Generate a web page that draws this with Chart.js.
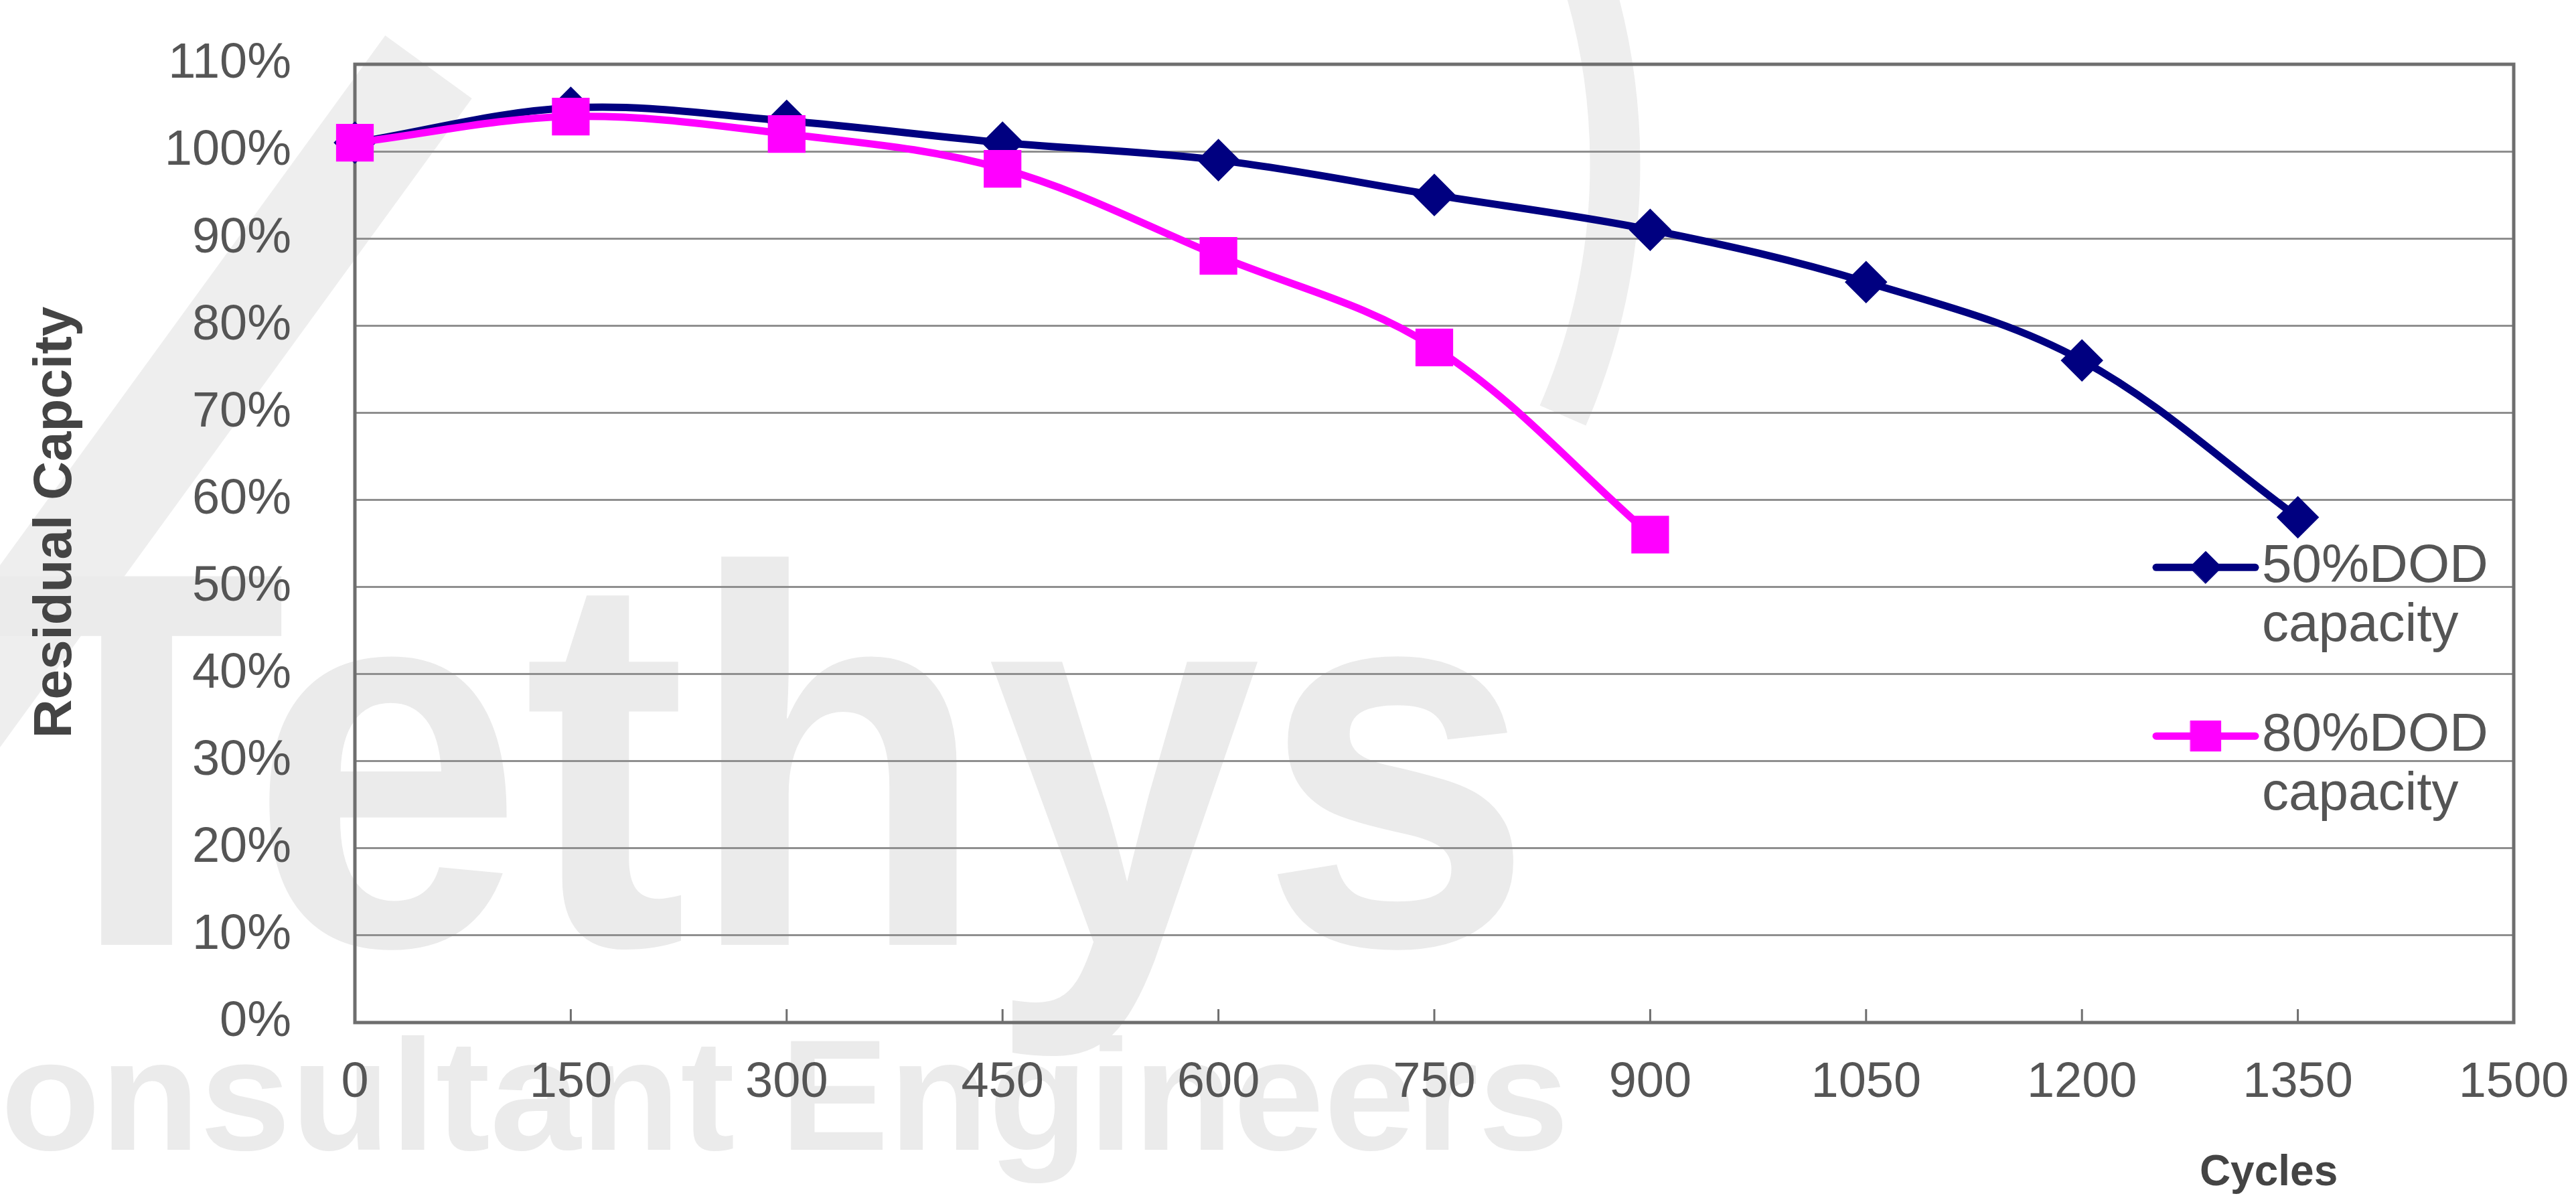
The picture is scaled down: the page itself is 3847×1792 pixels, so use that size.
<!DOCTYPE html>
<html>
<head>
<meta charset="utf-8">
<title>Residual Capacity vs Cycles</title>
<script src="https://cdn.jsdelivr.net/npm/chart.js@4.4.1/dist/chart.umd.min.js"></script>
<style>
  html, body { margin: 0; padding: 0; background: #fff; }
  #wrap { width: 3847px; height: 1792px; }
</style>
</head>
<body>
<div id="wrap"><canvas id="chart" width="3847" height="1792"></canvas></div>
<script>
// 가로축: 사이클 수
const cycles = [0, 150, 300, 450, 600, 750, 900, 1050, 1200, 1350];
// 잔존 용량 (%)
const dod50 = [101, 105, 103.5, 101, 99, 95, 91, 85, 76, 58];
const dod80 = [101, 104, 102, 98, 88, 77.5, 56];
// 범례 이름 (두 줄)
const name50 = ['50%DOD', 'capacity'];
const name80 = ['80%DOD', 'capacity'];
// 축 눈금
const xTickRange = [0, 1500, 150];
const yTickRange = [0, 110, 10];

const FONT = '"Liberation Sans", Arial, Helvetica, sans-serif';
const NAVY = '#000080';
const MAGENTA = '#FF00FF';
const TEXT = '#555555';

function toPoints(values) {
    return values.map((v, i) => ({ x: cycles[i], y: v }));
}

// 배경 워터마크 (Tethys 로고)
const watermark = {
    id: 'watermark',
    beforeDraw(chart) {
        const ctx = chart.ctx;
        ctx.save();
        ctx.fillStyle = '#ffffff';
        ctx.fillRect(0, 0, chart.width, chart.height);

        ctx.strokeStyle = '#eeeeee';
        ctx.lineWidth = 160;
        ctx.beginPath();
        ctx.moveTo(-80, 1090);
        ctx.lineTo(640, 100);
        ctx.stroke();

        ctx.lineWidth = 75;
        ctx.beginPath();
        ctx.arc(1470, 245, 942, -2.77, 0.41);
        ctx.stroke();

        ctx.fillStyle = '#ebebeb';
        ctx.textBaseline = 'alphabetic';
        ctx.textAlign = 'left';
        ctx.font = 'bold 800px ' + FONT;
        let w = ctx.measureText('Tethys').width;
        ctx.save();
        ctx.translate(-20, 1411);
        ctx.scale(2310 / w, 1);
        ctx.fillText('Tethys', 0, 0);
        ctx.restore();

        ctx.font = 'bold 235px ' + FONT;
        w = ctx.measureText('Consultant Engineers').width;
        ctx.save();
        ctx.translate(-175, 1717);
        ctx.scale(2518 / w, 1);
        ctx.fillText('Consultant Engineers', 0, 0);
        ctx.restore();
        ctx.restore();
    }
};

// 플롯 테두리와 안쪽 눈금
const frame = {
    id: 'frame',
    beforeDatasetsDraw(chart) {
        const { ctx, chartArea: a, scales } = chart;
        ctx.save();
        ctx.strokeStyle = '#6e6e6e';
        ctx.lineWidth = 3;
        scales.x.ticks.forEach(t => {
            const px = scales.x.getPixelForValue(t.value);
            ctx.beginPath();
            ctx.moveTo(px, a.bottom);
            ctx.lineTo(px, a.bottom - 20);
            ctx.stroke();
        });
        ctx.lineWidth = 5;
        ctx.strokeRect(a.left, a.top, a.right - a.left, a.bottom - a.top);
        ctx.restore();
    }
};

// 축 제목 (Cycles 는 오른쪽으로 치우쳐 있음)
const axisTitles = {
    id: 'axisTitles',
    afterDraw(chart) {
        const ctx = chart.ctx;
        const a = chart.chartArea;
        ctx.save();
        ctx.fillStyle = '#444444';
        ctx.textAlign = 'center';
        ctx.textBaseline = 'middle';
        ctx.font = 'bold 64px ' + FONT;
        ctx.fillText('Cycles', a.left + (a.right - a.left) * 0.8865, 1752);

        ctx.font = 'bold 80px ' + FONT;
        ctx.translate(84, a.top + (a.bottom - a.top) * 0.478);
        ctx.rotate(-Math.PI / 2);
        ctx.fillText('Residual Capcity', 0, 0);
        ctx.restore();
    }
};

// 플롯 안쪽 오른편 범례 (50% 먼저, 80% 다음)
const sideLegend = {
    id: 'sideLegend',
    afterDatasetsDraw(chart) {
        const ctx = chart.ctx;
        const a = chart.chartArea;
        const h = a.bottom - a.top;
        const rows = [a.top + h * 0.525, a.top + h * 0.701];
        const items = [chart.data.datasets[1], chart.data.datasets[0]];
        ctx.save();
        items.forEach((ds, i) => {
            const y = rows[i];
            const x0 = a.right - 534;
            const x1 = a.right - 386;
            ctx.strokeStyle = ds.borderColor;
            ctx.lineWidth = 11;
            ctx.lineCap = 'round';
            ctx.beginPath();
            ctx.moveTo(x0, y);
            ctx.lineTo(x1, y);
            ctx.stroke();
            ctx.fillStyle = ds.pointBackgroundColor;
            ctx.strokeStyle = ds.pointBorderColor;
            ctx.lineWidth = 1;
            Chart.helpers.drawPoint(ctx, {
                pointStyle: ds.pointStyle,
                radius: ds.pointRadius,
                borderWidth: 1
            }, (x0 + x1) / 2, y);
            ctx.fillStyle = TEXT;
            ctx.font = '80px ' + FONT;
            ctx.textAlign = 'left';
            ctx.textBaseline = 'middle';
            ds.legendLines.forEach((line, k) => {
                ctx.fillText(line, a.right - 376, y + k * 88);
            });
        });
        ctx.restore();
    }
};

const ctx = document.getElementById('chart');

new Chart(ctx, {
    type: 'line',
    data: {
        datasets: [
            {
                label: name80.join(' '),
                legendLines: name80,
                data: toPoints(dod80),
                borderColor: MAGENTA,
                backgroundColor: MAGENTA,
                pointBackgroundColor: MAGENTA,
                pointBorderColor: MAGENTA,
                pointStyle: 'rect',
                pointRadius: 32,
                borderWidth: 11,
                tension: 0.35,
                clip: false,
                order: 0
            },
            {
                label: name50.join(' '),
                legendLines: name50,
                data: toPoints(dod50),
                borderColor: NAVY,
                backgroundColor: NAVY,
                pointBackgroundColor: NAVY,
                pointBorderColor: NAVY,
                pointStyle: 'rectRot',
                pointRadius: 24,
                borderWidth: 11,
                tension: 0.35,
                clip: false,
                order: 1
            }
        ]
    },
    options: {
        responsive: false,
        animation: false,
        devicePixelRatio: 1,
        layout: { padding: { top: 96, right: 93, left: 0, bottom: 0 } },
        plugins: {
            legend: { display: false },
            tooltip: { enabled: false }
        },
        scales: {
            x: {
                type: 'linear',
                min: xTickRange[0],
                max: xTickRange[1],
                ticks: {
                    stepSize: xTickRange[2],
                    color: TEXT,
                    padding: 46,
                    font: { family: FONT, size: 74 },
                    callback: v => String(v)
                },
                grid: { display: false, drawTicks: false },
                border: { display: false },
                afterFit(scale) {
                    scale.height = 265;
                    scale.paddingLeft = 0;
                    scale.paddingRight = 0;
                }
            },
            y: {
                min: yTickRange[0],
                max: yTickRange[1],
                ticks: {
                    stepSize: yTickRange[2],
                    color: TEXT,
                    padding: 95,
                    font: { family: FONT, size: 74 },
                    callback: v => v + '%'
                },
                grid: { color: '#8f8f8f', lineWidth: 3, drawTicks: false },
                border: { display: false },
                afterFit(scale) {
                    scale.width = 530;
                    scale.paddingTop = 0;
                    scale.paddingBottom = 0;
                }
            }
        }
    },
    plugins: [watermark, frame, sideLegend, axisTitles]
});
</script>
</body>
</html>
